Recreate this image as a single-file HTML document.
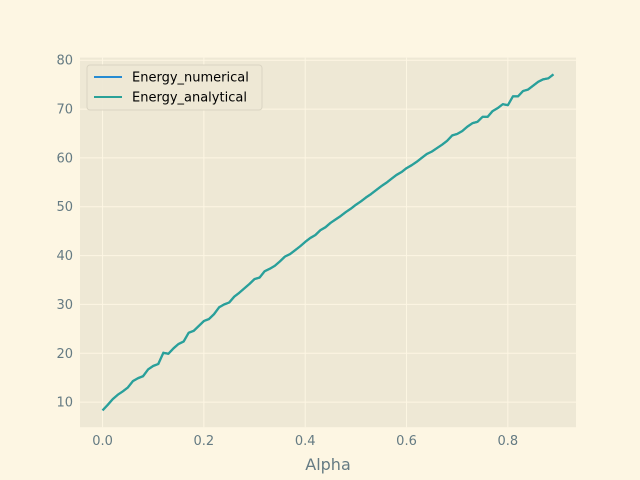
<!DOCTYPE html>
<html><head><meta charset="utf-8"><style>
html,body{margin:0;padding:0;width:640px;height:480px;overflow:hidden;background:#fdf6e3;}
svg{display:block;}
svg text{font-family:"DejaVu Sans","Liberation Sans",sans-serif;}
</style></head><body>
<svg width="640" height="480" xmlns="http://www.w3.org/2000/svg">
<rect width="640" height="480" fill="#fdf6e3"/>
<rect x="80" y="57.6" width="496" height="369.6" fill="#eee8d5"/>
<g id="grid"></g><g id="ticks"></g><g id="lines"></g>
<text x="328" y="470" text-anchor="middle" font-size="16" fill="#657b83">Alpha</text>
<g>
<rect x="87" y="65" width="175" height="45" rx="3" fill="#eee8d5" stroke="#d8d2c0" opacity="0.9"/>
<line x1="94" y1="77" x2="122" y2="77" stroke="#268bd2" stroke-width="2"/>
<text x="132" y="81.5" font-size="13" fill="#000">Energy_numerical</text>
<line x1="94" y1="97" x2="122" y2="97" stroke="#2aa198" stroke-width="2"/>
<text x="132" y="101.5" font-size="13" fill="#000">Energy_analytical</text>
</g>
</svg>
<script>
const energyValues=[8.3,9.4,10.6,11.5,12.2,13.0,14.3,14.9,15.3,16.7,17.4,17.8,20.1,19.9,21.0,21.9,22.4,24.2,24.6,25.6,26.6,27.0,28.0,29.4,30.0,30.4,31.6,32.4,33.3,34.2,35.2,35.5,36.8,37.3,37.9,38.8,39.8,40.3,41.1,41.9,42.8,43.6,44.2,45.2,45.8,46.7,47.4,48.1,48.9,49.6,50.4,51.1,51.9,52.6,53.4,54.2,54.9,55.7,56.5,57.1,57.9,58.5,59.2,60.0,60.8,61.3,62.0,62.7,63.5,64.6,64.9,65.5,66.4,67.1,67.4,68.4,68.4,69.6,70.2,71.0,70.8,72.6,72.6,73.7,74.0,74.8,75.6,76.1,76.3,77.1];
const alphaStep=0.01;
const xTicks=[0.0,0.2,0.4,0.6,0.8];
const xTickLabels=["0.0","0.2","0.4","0.6","0.8"];
const yTicks=[10,20,30,40,50,60,70,80];
const NS="http://www.w3.org/2000/svg";
const alphas=energyValues.map((v,i)=>+(i*alphaStep).toFixed(2));
const xmaxData=alphas[alphas.length-1];
const ymin=Math.min(...energyValues),ymax=Math.max(...energyValues);
const xPad=0.05*xmaxData,yPad=0.05*(ymax-ymin);
const x0=-xPad,x1=xmaxData+xPad,y0=ymin-yPad,y1=ymax+yPad;
const L=80,R=576,T=57.6,B=427.2;
const sx=v=>L+(v-x0)/(x1-x0)*(R-L);
const sy=v=>B-(v-y0)/(y1-y0)*(B-T);
function mk(tag,attrs,parent){const e=document.createElementNS(NS,tag);for(const k in attrs)e.setAttribute(k,attrs[k]);parent.appendChild(e);return e;}
const grid=document.getElementById('grid'),ticks=document.getElementById('ticks'),lines=document.getElementById('lines');
xTicks.forEach((t,i)=>{
 const g=mk('line',{x1:sx(t),x2:sx(t),y1:T,y2:B,stroke:'#fdf6e3','stroke-width':1},grid);
 
 
 const tx=mk('text',{x:sx(t),y:B+18,'text-anchor':'middle','font-size':13,fill:'#657b83'},ticks);
 tx.textContent=xTickLabels[i];
 
 
});
yTicks.forEach(t=>{
 const g=mk('line',{x1:L,x2:R,y1:sy(t),y2:sy(t),stroke:'#fdf6e3','stroke-width':1},grid);
 
 
 const tx=mk('text',{x:L-7,y:sy(t)+4.5,'text-anchor':'end','font-size':13,fill:'#657b83'},ticks);
 tx.textContent=String(t);
 
 
});
const pts=energyValues.map((v,i)=>sx(alphas[i]).toFixed(2)+','+sy(v).toFixed(2)).join(' ');
const l1=mk('polyline',{points:pts,fill:'none',stroke:'#268bd2','stroke-width':2.2,'stroke-linejoin':'round'},lines);


const l2=mk('polyline',{points:pts,fill:'none',stroke:'#2aa198','stroke-width':2.2,'stroke-linejoin':'round'},lines);


</script>
</body></html>
